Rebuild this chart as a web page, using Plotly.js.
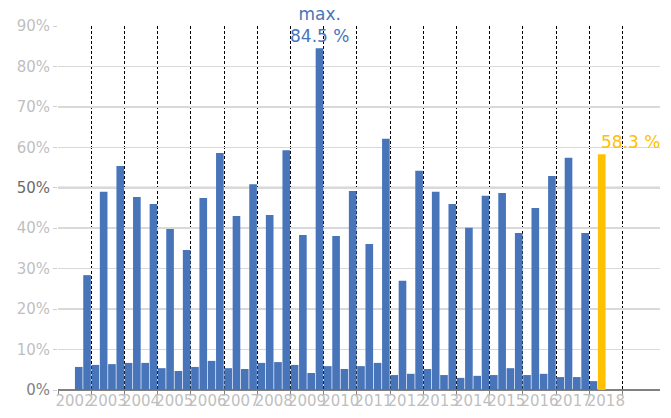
<!DOCTYPE html>
<html>
<head>
<meta charset="utf-8">
<script src="https://cdn.plot.ly/plotly-3.0.1.min.js"></script>
<style>
  html, body { margin: 0; padding: 0; background: #fff; }
  #chart { width: 671px; height: 418px; }
</style>
</head>
<body>
<div id="chart"></div>
<script>
// ---- Data (quarterly shares, %) ----
const firstYear = 2002;
const firstQuarter = 3;            // series starts in Q3 2002
const values = [
  5.7, 28.4,                       // 2002 Q3-Q4
  6.2, 49.0, 6.4, 55.4,            // 2003
  6.7, 47.7, 6.7, 46.0,            // 2004
  5.4, 39.8, 4.7, 34.6,            // 2005
  5.7, 47.5, 7.2, 58.6,            // 2006
  5.4, 43.0, 5.2, 50.9,            // 2007
  6.7, 43.3, 6.9, 59.3,            // 2008
  6.2, 38.3, 4.2, 84.5,            // 2009
  5.9, 38.1, 5.2, 49.2,            // 2010
  5.9, 36.1, 6.7, 62.1,            // 2011
  3.7, 27.0, 4.0, 54.2,            // 2012
  5.2, 49.0, 3.7, 46.0,            // 2013
  3.0, 40.1, 3.5, 48.0,            // 2014
  3.7, 48.7, 5.4, 38.8,            // 2015
  3.7, 45.0, 4.0, 52.9,            // 2016
  3.2, 57.4, 3.2, 38.8,            // 2017
  2.2, 58.3                        // 2018 Q1-Q2
];
const tickYears = [2002,2003,2004,2005,2006,2007,2008,2009,2010,2011,2012,2013,2014,2015,2016,2017,2018];
const yTicks = [0,10,20,30,40,50,60,70,80,90];
const highlightTick = 50;

// ---- Styles ----
const barColor = '#4874BA';
const latestColor = '#FFC000';
const font = 'DejaVu Sans';

const n = values.length;
const x = values.map((v, i) => firstYear + (firstQuarter - 1 + i + 0.5) / 4);
const colors = values.map((v, i) => i === n - 1 ? latestColor : barColor);
const maxVal = Math.max(...values);
const maxIdx = values.indexOf(maxVal);
const boundaries = tickYears.concat([tickYears[tickYears.length - 1] + 1]);

const yText = yTicks.map(t => {
  if (t === highlightTick) return '<span style="color:#6b6b6b">' + t + '%</span>';
  if (t === 0) return '<span style="color:#828282">' + t + '%</span>';
  return t + '%';
});

const trace = {
  type: 'bar',
  x: x,
  y: values,
  width: 0.23,
  marker: { color: colors, line: { width: 0 } },
  hoverinfo: 'skip'
};

const layout = {
  width: 671,
  height: 418,
  margin: { l: 58, r: 11, t: 26, b: 28 },
  paper_bgcolor: '#ffffff',
  plot_bgcolor: '#ffffff',
  showlegend: false,
  xaxis: {
    range: [2002, 2020.13],
    tickmode: 'array',
    tickvals: tickYears.map(y => y + 0.5),
    ticktext: tickYears.map(String),
    tickangle: 0,
    ticks: '',
    showgrid: false,
    zeroline: false,
    showline: false,
    tickfont: { family: font, size: 15, color: '#bfbfbf' },
    minor: {
      tickmode: 'array',
      tickvals: boundaries,
      showgrid: true,
      gridcolor: '#000000',
      griddash: '3px,2px',
      gridwidth: 1,
      ticks: 'outside',
      ticklen: 4,
      tickcolor: '#808080'
    }
  },
  yaxis: {
    range: [0, 90],
    tickmode: 'array',
    tickvals: yTicks,
    ticktext: yText,
    ticks: 'outside',
    ticklen: 4,
    tickcolor: '#d0d0d0',
    showgrid: true,
    gridcolor: '#d9d9d9',
    gridwidth: 1.5,
    zeroline: true,
    zerolinecolor: '#808080',
    zerolinewidth: 2,
    tickfont: { family: font, size: 15, color: '#bfbfbf' }
  },
  shapes: [{
    type: 'line', xref: 'paper', x0: 0, x1: 1, yref: 'y', y0: highlightTick, y1: highlightTick,
    line: { color: '#a6a6a6', width: 2 }, layer: 'below'
  }],
  annotations: [
    {
      x: x[maxIdx], y: maxVal, xref: 'x', yref: 'y',
      text: 'max.<br>' + maxVal.toFixed(1) + ' %',
      showarrow: false, yanchor: 'bottom', xanchor: 'center',
      font: { family: font, size: 17, color: barColor }
    },
    {
      x: x[n - 1], y: values[n - 1], xref: 'x', yref: 'y',
      text: values[n - 1].toFixed(1) + ' %',
      showarrow: false, yanchor: 'bottom', xanchor: 'left', xshift: -3,
      font: { family: font, size: 17, color: latestColor }
    }
  ]
};

Plotly.newPlot('chart', [trace], layout, { displayModeBar: false, staticPlot: true });
</script>
</body>
</html>
